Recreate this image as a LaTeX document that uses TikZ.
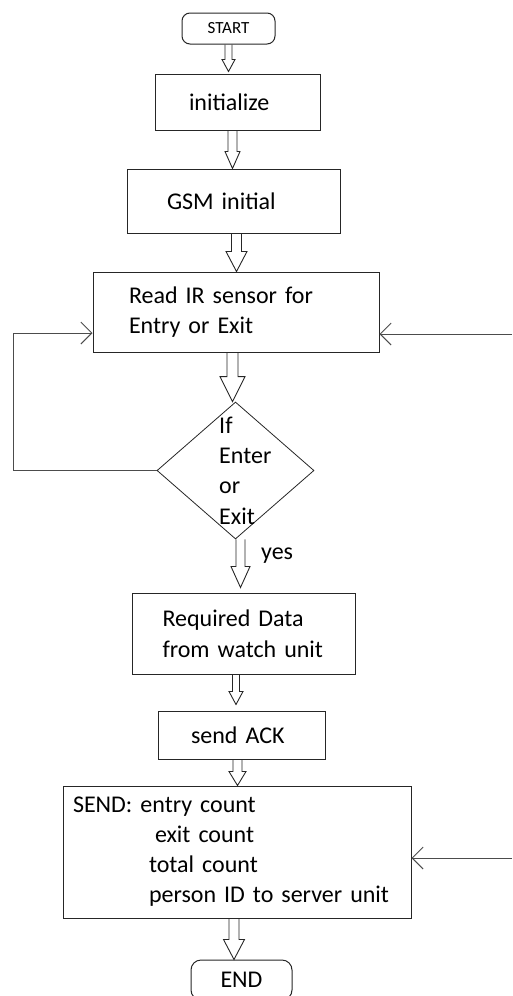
\documentclass[tikz,border=0pt]{standalone}
\usepackage{fontspec}
\setmainfont{Carlito}
\usetikzlibrary{shapes.geometric,arrows.meta,positioning,calc}

\tikzset{
  procbox/.style={draw=black!85, line width=1pt, rectangle, inner sep=0pt, align=left, font=\fontsize{24}{30.5}\selectfont},
  termbox/.style={procbox, rounded corners=8pt, align=center},
  decision/.style={draw=black!85, line width=0.8pt, diamond, inner sep=0pt},
  plaintext/.style={inner sep=0pt, align=left, font=\fontsize{24}{30.3}\selectfont},
  blockarrow/.style={draw=black!85, line width=0.9pt, line join=miter},
  sidearrow/.style={draw=black!70, line width=0.9pt, -{Straight Barb[length=11pt,width=22pt]}},
}

\begin{document}
\begin{tikzpicture}[x=1pt,y=-1pt]
            \useasboundingbox (0,0) rectangle (512,996);
            \node[termbox, minimum width=93pt, minimum height=31pt, font=\fontsize{17}{20}\selectfont] (start) at (228.5,28.5) {START};
            \node[procbox, minimum width=165pt, minimum height=56pt, text width=97pt] (init) at (237.5,102) {initialize};
            \node[procbox, minimum width=213pt, minimum height=64pt, text width=133pt] (gsm) at (233.5,201) {GSM initial};
            \node[procbox, minimum width=286pt, minimum height=80pt, text width=214pt] (read) at (236,312) {Read IR sensor for\\Entry or Exit};
            \node[decision, minimum width=157pt, minimum height=137pt] (dec) at (235.5,470.5) {};
            \node[plaintext, anchor=west] (dectext) at (219,470.5) {If\\Enter\\or\\Exit};
            \node[plaintext, anchor=west] (yes) at (261,556) {yes};
            \node[procbox, minimum width=223pt, minimum height=81pt, text width=162pt] (req) at (243.5,633.5) {Required Data\\from watch unit};
            \node[procbox, minimum width=167pt, minimum height=48pt, text width=101pt] (ack) at (241.5,735) {send ACK};
            \node[procbox, minimum width=348pt, minimum height=132pt, text width=328pt, font=\fontsize{24}{30}\selectfont] (send) at (237,852)
                {SEND: entry count\\\hspace*{82pt}exit count\\\hspace*{76pt}total count\\\hspace*{76pt}person ID to server unit};
            \node[termbox, rounded corners=10pt, minimum width=101pt, minimum height=40pt] (stop) at (241.5,980) {END};
            % hollow block arrows
            \foreach \a/\dx/\b/\dy/\sw/\hw/\hl in {start/0/init/-2/3.5/6.5/12, init/-5/gsm/0/4.5/7.5/17, gsm/3/read/0/5/10.5/20, read/-3.5/dec/0/5.5/12.5/25, dec/5/req/-5/4.5/9.5/21, req/-7.5/ack/-6/3.5/7/13, ack/-4/send/0/4.5/8.5/14, send/-3/stop/0/5/10.5/20} {
                \draw[blockarrow] let \p1=($(\a.south)+(\dx,0)$), \p2=($(\b.north)+(0,\dy)$) in
                    (\x1-\sw pt,\y1) -- (\x1-\sw pt,\y2+\hl pt) -- (\x1-\hw pt,\y2+\hl pt) -- (\x1,\y2)
                    -- (\x1+\hw pt,\y2+\hl pt) -- (\x1+\sw pt,\y2+\hl pt) -- (\x1+\sw pt,\y1);
            }
            % loop back and side inputs
            \coordinate (loopcorner) at (13,333);
            \coordinate (rightin) at (512,334);
            \coordinate (rightsend) at (512,858);
            \draw[sidearrow] (dec.west) -| (loopcorner) -- (read.west |- loopcorner);
            \draw[sidearrow] (rightin) -- (read.east |- rightin);
            \draw[sidearrow] (rightsend) -- (send.east |- rightsend);
\end{tikzpicture}
\end{document}
